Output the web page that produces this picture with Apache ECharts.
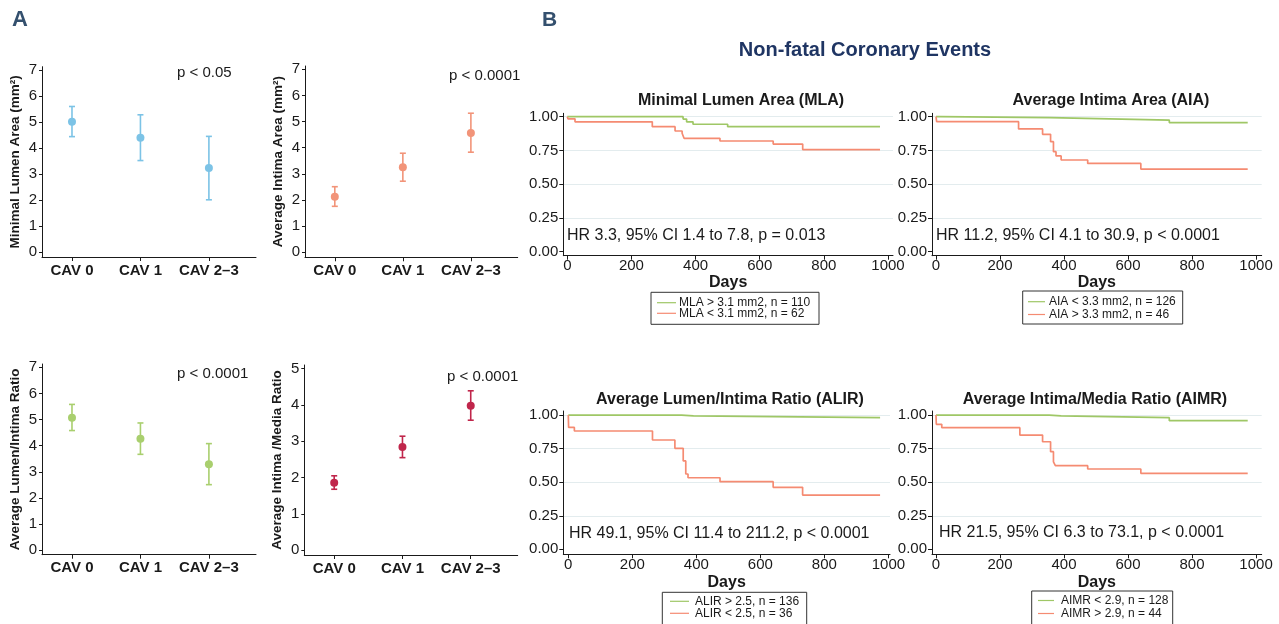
<!DOCTYPE html>
<html>
<head>
<meta charset="utf-8">
<script src="https://cdn.jsdelivr.net/npm/echarts@6/dist/echarts.min.js"></script>
<style>html,body{margin:0;padding:0;background:#fff;}#c{width:1279px;height:624px;}</style>
</head>
<body>
<div id="c"></div>
<script>
// ---------- DATA ----------
const cavCats = ['CAV 0', 'CAV 1', 'CAV 2–3'];
const cavPos = [1, 2, 3];

const mlaMean = [5.00, 4.39, 3.22];
const mlaLow  = [4.43, 3.51, 2.00];
const mlaHigh = [5.59, 5.27, 4.44];

const aiaMean = [2.13, 3.25, 4.56];
const aiaLow  = [1.76, 2.72, 3.83];
const aiaHigh = [2.51, 3.79, 5.32];

const alirMean = [5.07, 4.27, 3.29];
const alirLow  = [4.58, 3.67, 2.51];
const alirHigh = [5.58, 4.87, 4.08];

const aimrMean = [1.86, 2.84, 3.98];
const aimrLow  = [1.68, 2.55, 3.58];
const aimrHigh = [2.05, 3.14, 4.39];

const pvals = ['p < 0.05', 'p < 0.0001', 'p < 0.0001', 'p < 0.0001'];
const yTicksA7 = [0, 1, 2, 3, 4, 5, 6, 7];
const yTicksA5 = [0, 1, 2, 3, 4, 5];

// Kaplan-Meier curves (day of step, survival after step)
const mlaGtDays = [0, 361, 372, 392, 500, 975];
const mlaGtSurv = [1, 0.982, 0.962, 0.944, 0.926, 0.926];
const mlaLtDays = [0, 2, 24, 265, 336, 358, 364, 476, 642, 734, 975];
const mlaLtSurv = [1, 0.984, 0.962, 0.926, 0.894, 0.877, 0.84, 0.82, 0.797, 0.756, 0.756];

const aiaLtDays = [0, 12, 356, 362, 729, 974];
const aiaLtSurv = [1, 0.993, 0.98, 0.975, 0.956, 0.956];
const aiaGtDays = [0, 2, 258, 333, 358, 367, 375, 391, 474, 640, 974];
const aiaGtSurv = [1, 0.963, 0.909, 0.869, 0.815, 0.741, 0.709, 0.679, 0.654, 0.612, 0.612];

const alirGtDays = [0, 354, 391, 974];
const alirGtSurv = [1, 0.993, 0.98, 0.98];
const alirLtDays = [0, 1, 19, 263, 333, 359, 367, 374, 474, 640, 732, 974];
const alirLtSurv = [1, 0.908, 0.881, 0.814, 0.752, 0.658, 0.561, 0.533, 0.504, 0.462, 0.404, 0.404];

const aimrLtDays = [0, 354, 391, 729, 974];
const aimrLtSurv = [1, 0.993, 0.98, 0.958, 0.958];
const aimrGtDays = [0, 1, 18, 262, 333, 358, 367, 373, 474, 640, 974];
const aimrGtSurv = [1, 0.931, 0.906, 0.851, 0.801, 0.727, 0.652, 0.623, 0.598, 0.566, 0.566];

const kmTitles = ['Minimal Lumen Area (MLA)', 'Average Intima Area (AIA)',
                  'Average Lumen/Intima Ratio (ALIR)', 'Average Intima/Media Ratio (AIMR)'];
const kmHR = ['HR 3.3, 95% CI 1.4 to 7.8, p = 0.013', 'HR 11.2, 95% CI 4.1 to 30.9, p < 0.0001',
              'HR 49.1, 95% CI 11.4 to 211.2, p < 0.0001', 'HR 21.5, 95% CI 6.3 to 73.1, p < 0.0001'];
const kmLegend = [
  ['MLA > 3.1 mm2, n = 110', 'MLA < 3.1 mm2, n = 62'],
  ['AIA < 3.3 mm2, n = 126', 'AIA > 3.3 mm2, n = 46'],
  ['ALIR > 2.5, n = 136', 'ALIR < 2.5, n = 36'],
  ['AIMR < 2.9, n = 128', 'AIMR > 2.9, n = 44']
];
const dayTicks = [0, 200, 400, 600, 800, 1000];
const survTicks = [0, 0.25, 0.5, 0.75, 1];

// ---------- STYLE ----------
const FONT = "'Liberation Sans', Arial, Helvetica, sans-serif";
const GREEN = '#9fc766';
const SALMON = '#f58b72';
const colA = ['#7cc3e6', '#f29479', '#a9cf6e', '#c0264b'];
const INK = '#1a1a1a';

const chart = echarts.init(document.getElementById('c'), null, {renderer: 'canvas'});

const gridsA = [
  {left: 42, top: 66.7, width: 214, height: 190.3},
  {left: 305, top: 66, width: 212.7, height: 191.3},
  {left: 42, top: 364, width: 214, height: 190.7},
  {left: 304.3, top: 365, width: 213.4, height: 190}
];
const yRangeA = [[-0.2, 7.12], [-0.19, 7.126], [-0.17, 7.126], [-0.13, 5.1]];
const yNamesA = ['Minimal Lumen Area (mm²)', 'Average Intima Area (mm²)', 'Average Lumen/Intima Ratio', 'Average Intima /Media Ratio'];
const meansA = [mlaMean, aiaMean, alirMean, aimrMean];
const lowsA = [mlaLow, aiaLow, alirLow, aimrLow];
const highsA = [mlaHigh, aiaHigh, alirHigh, aimrHigh];

const gridsB = [
  {left: 563.3, top: 113.3, width: 329.7, height: 142.4},
  {left: 932, top: 113.3, width: 329.7, height: 142.4},
  {left: 563.3, top: 411, width: 326.7, height: 143.3},
  {left: 932, top: 411, width: 329.7, height: 143.3}
];
const xRangeB = [[-12.5, 1015.6], [-12.5, 1017.7], [-15.6, 1005], [-12.5, 1017.7]];
const yRangeB = [[-0.0296, 1.025], [-0.0296, 1.025], [-0.037, 1.03], [-0.037, 1.03]];
const kmCurves = [
  [[mlaGtDays, mlaGtSurv], [mlaLtDays, mlaLtSurv]],
  [[aiaLtDays, aiaLtSurv], [aiaGtDays, aiaGtSurv]],
  [[alirGtDays, alirGtSurv], [alirLtDays, alirLtSurv]],
  [[aimrLtDays, aimrLtSurv], [aimrGtDays, aimrGtSurv]]
];

const grid = [], xAxis = [], yAxis = [], series = [];

gridsA.forEach((g, i) => {
  grid.push(Object.assign({containLabel: false}, g));
  xAxis.push({
    type: 'value', gridIndex: i, min: 0.562, max: 3.688,
    axisLine: {show: true, onZero: false, lineStyle: {color: INK, width: 1}},
    axisTick: {show: true, length: 4, customValues: cavPos, lineStyle: {color: INK}},
    axisLabel: {show: true, customValues: cavPos, margin: 6, fontFamily: FONT, fontSize: 15, fontWeight: 'bold', color: INK,
      formatter: v => cavCats[Math.round(v) - 1]},
    splitLine: {show: false}
  });
  const ticks = i === 3 ? yTicksA5 : yTicksA7;
  yAxis.push({
    type: 'value', gridIndex: i, min: yRangeA[i][0], max: yRangeA[i][1],
    name: yNamesA[i], nameLocation: 'middle', nameGap: 20,
    nameTextStyle: {fontFamily: FONT, fontSize: 13.5, fontWeight: 'bold', color: INK},
    axisLine: {show: true, onZero: false, lineStyle: {color: INK, width: 1}},
    axisTick: {show: true, length: 3, customValues: ticks, lineStyle: {color: INK}},
    axisLabel: {show: true, customValues: ticks, margin: 5, fontFamily: FONT, fontSize: 15, color: INK,
      formatter: v => String(v)},
    splitLine: {show: false}
  });
  const errData = cavPos.map((p, k) => [p, lowsA[i][k], highsA[i][k]]);
  series.push({
    type: 'custom', xAxisIndex: i, yAxisIndex: i, data: errData, silent: true,
    renderItem: (params, api) => {
      const x = api.value(0), lo = api.value(1), hi = api.value(2);
      const a = api.coord([x, lo]), b = api.coord([x, hi]);
      const hw = 3;
      const st = {stroke: colA[i], lineWidth: 1.6};
      return {type: 'group', children: [
        {type: 'line', shape: {x1: a[0], y1: a[1], x2: b[0], y2: b[1]}, style: st},
        {type: 'line', shape: {x1: a[0] - hw, y1: a[1], x2: a[0] + hw, y2: a[1]}, style: st},
        {type: 'line', shape: {x1: b[0] - hw, y1: b[1], x2: b[0] + hw, y2: b[1]}, style: st}
      ]};
    }
  });
  series.push({
    type: 'scatter', xAxisIndex: i, yAxisIndex: i, symbolSize: 8,
    itemStyle: {color: colA[i], opacity: 1},
    data: cavPos.map((p, k) => [p, meansA[i][k]])
  });
});

gridsB.forEach((g, j) => {
  const idx = 4 + j;
  grid.push(Object.assign({containLabel: false}, g));
  xAxis.push({
    type: 'value', gridIndex: idx, min: xRangeB[j][0], max: xRangeB[j][1],
    name: 'Days', nameLocation: 'middle', nameGap: j < 2 ? 19 : 20,
    nameTextStyle: {fontFamily: FONT, fontSize: 16, fontWeight: 'bold', color: INK},
    axisLine: {show: true, onZero: false, lineStyle: {color: INK, width: 1}},
    axisTick: {show: true, length: 4, customValues: dayTicks, lineStyle: {color: INK}},
    axisLabel: {show: true, customValues: dayTicks, margin: 3, fontFamily: FONT, fontSize: 15, color: INK,
      formatter: v => String(Math.round(v))},
    splitLine: {show: false}
  });
  yAxis.push({
    type: 'value', gridIndex: idx, min: yRangeB[j][0], max: yRangeB[j][1],
    axisLine: {show: true, onZero: false, lineStyle: {color: INK, width: 1}},
    axisTick: {show: true, length: 4, customValues: survTicks, lineStyle: {color: INK}},
    axisLabel: {show: true, customValues: survTicks, margin: 5, fontFamily: FONT, fontSize: 15, color: INK,
      formatter: v => Number(v).toFixed(2)},
    splitLine: {show: false}
  });
  // faint horizontal reference lines at the survival ticks
  series.push({
    type: 'line', xAxisIndex: idx, yAxisIndex: idx, data: [], silent: true, z: 0, zlevel: 0,
    markLine: {silent: true, symbol: 'none', label: {show: false}, z: 0,
      lineStyle: {color: '#e3ecee', width: 1, type: 'solid'},
      data: survTicks.filter(v => v > 0).map(v => ({yAxis: v}))}
  });
  kmCurves[j].forEach((c, k) => {
    series.push({
      name: kmLegend[j][k], type: 'line', step: 'end', xAxisIndex: idx, yAxisIndex: idx,
      showSymbol: false, symbol: 'none', silent: true, z: 5,
      lineStyle: {color: k === 0 ? GREEN : SALMON, width: 1.7},
      data: c[0].map((d, n) => [d, c[1][n]])
    });
  });
});

// ---------- TEXT / ANNOTATIONS ----------
const graphic = [];
function txt(text, x, y, size, opts) {
  graphic.push({type: 'text', x: x, y: y, silent: true,
    style: Object.assign({text: text, fontFamily: FONT, fontSize: size, fill: INK,
      textAlign: 'left', textVerticalAlign: 'middle'}, opts || {})});
}
txt('A', 12, 20, 22, {fontWeight: 'bold', fill: '#34506e'});
txt('B', 542, 20, 21, {fontWeight: 'bold', fill: '#34506e'});
txt('Non-fatal Coronary Events', 865, 50, 20, {fontWeight: 'bold', fill: '#1f3563', textAlign: 'center'});

const pPos = [[177, 73], [449, 76], [177, 374], [447, 377]];
pvals.forEach((p, i) => txt(p, pPos[i][0], pPos[i][1], 15));

const titlePos = [[741, 101], [1111, 101], [730, 400], [1095, 400]];
kmTitles.forEach((t, i) => txt(t, titlePos[i][0], titlePos[i][1], 16, {fontWeight: 'bold', textAlign: 'center'}));

const hrPos = [[567, 236], [936, 236], [569, 534], [939, 533]];
kmHR.forEach((t, i) => txt(t, hrPos[i][0], hrPos[i][1], 16));

// legend boxes
const legBox = [
  {x: 651, y: 292.3, w: 168, h: 32, l1: 657, l2: 676, tx: 679, y1: 302.7, y2: 313.3},
  {x: 1022.7, y: 291, w: 160, h: 33, l1: 1028, l2: 1045, tx: 1049, y1: 301.7, y2: 314.5},
  {x: 662.3, y: 592.3, w: 144.4, h: 40, l1: 670, l2: 689, tx: 695, y1: 601.3, y2: 613.3},
  {x: 1031.7, y: 591, w: 141, h: 40, l1: 1038, l2: 1054, tx: 1061, y1: 600.5, y2: 613.5}
];
legBox.forEach((b, i) => {
  graphic.push({type: 'rect', silent: true, shape: {x: b.x, y: b.y, width: b.w, height: b.h},
    style: {fill: '#fff', stroke: '#333', lineWidth: 1}});
  [b.y1, b.y2].forEach((yy, k) => {
    graphic.push({type: 'line', silent: true, shape: {x1: b.l1, y1: yy, x2: b.l2, y2: yy},
      style: {stroke: k === 0 ? GREEN : SALMON, lineWidth: 1.2}});
    txt(kmLegend[i][k], b.tx, yy, 12);
  });
});

chart.setOption({
  animation: false,
  backgroundColor: '#ffffff',
  grid: grid, xAxis: xAxis, yAxis: yAxis, series: series, graphic: graphic
});
</script>
</body>
</html>
